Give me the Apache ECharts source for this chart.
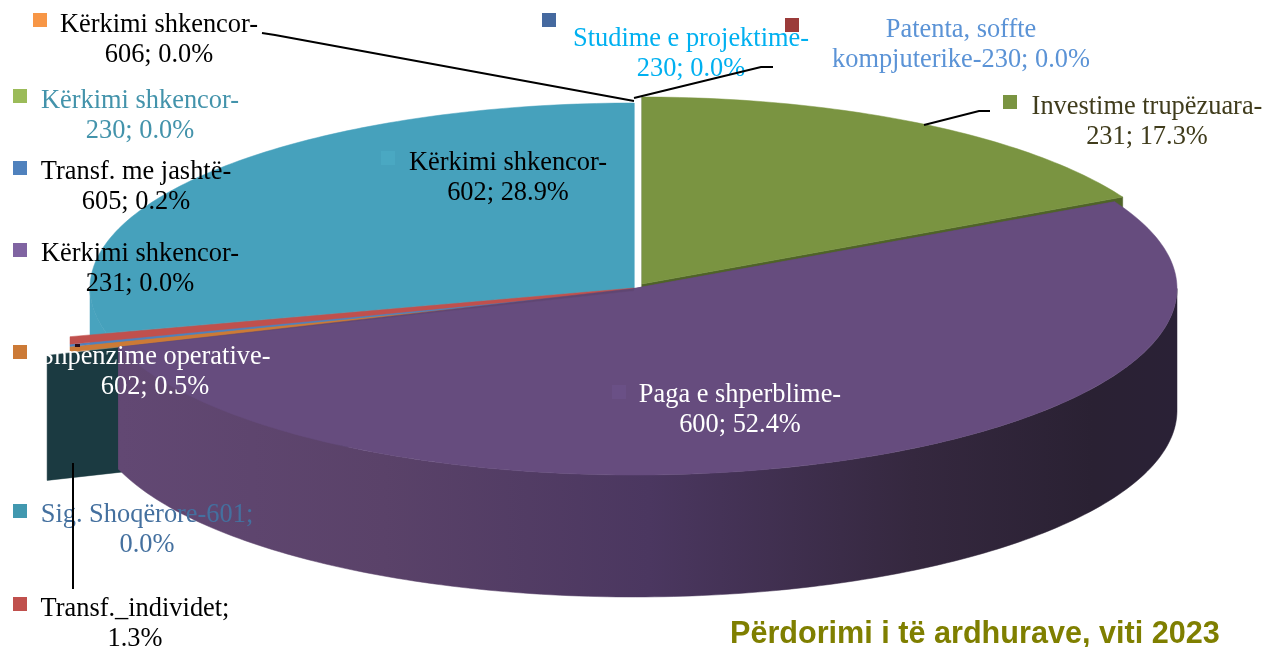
<!DOCTYPE html>
<html><head><meta charset="utf-8">
<style>html,body{margin:0;padding:0;background:#fff}#c{width:1265px;height:647px}</style>
<script src="https://cdn.jsdelivr.net/npm/echarts@6/dist/echarts.min.js"></script>
</head><body><div id="c"></div>
<script>
// ---- data: shares in percent, clockwise from 12 o'clock ----
var sliceNames  = ['Investime trupëzuara-231','Paga e shperblime-600','Sig. Shoqërore-601','Shpenzime operative-602','Transf. me jashtë-605','Transf._individet','Kërkimi shkencor-602'];
var sliceValues = [17.3, 52.4, 0.0, 0.5, 0.2, 1.3, 28.9];
var sliceColors = ['#7a9441','#664c7e','#1b3a41','#cc7a36','#4f81bd','#c0504d','#46a1bc'];
var wallColors  = ['#4f6328','#5f4672','#1b3a41','#cc7a36','#4f81bd','#c0504d','#48a3be'];

// ---- label texts ----
var labelTexts = [
  'Kërkimi shkencor-\n606; 0.0%','Kërkimi shkencor-\n230; 0.0%','Transf. me jashtë-\n605; 0.2%',
  'Kërkimi shkencor-\n231; 0.0%','Shpenzime operative-\n602; 0.5%','Sig. Shoqërore-601;\n0.0%',
  'Transf._individet;\n1.3%','Studime e projektime-\n230; 0.0%','Patenta, soffte\nkompjuterike-230; 0.0%',
  'Investime trupëzuara-\n231; 17.3%','Kërkimi shkencor-\n602; 28.9%','Paga e shperblime-\n600; 52.4%'
];
var labelColors = ['#000','#4393ab','#000','#000','#fff','#44709f','#000','#00b0f0','#5b93d6','#403c1c','#000','#fff'];
var swatchColors = ['#f79646','#9bbb59','#4f81bd','#8064a2','#cc7a36','#4198af','#c0504d','#45699f','#9b3b3a','#7a9441','#4aa8c2','#6a5086'];

// ---- layout (3D projection of each slice; drawing order is back to front) ----
var sliceGeom = [
  {cx:642,cy:284,rx:543,ry:187,d:122,k:1},
  {cx:634,cy:288.5,rx:543,ry:186.5,d:122,k:1.004,apexEnd:291},
  {cx:634,cy:290,rx:621,ry:200,d:125,k:1,faceOnly:true},
  {cx:634,cy:290,rx:600,ry:190,d:0,k:1,minX:70,apexA:293,apexB:290.8},
  {cx:634,cy:290,rx:600,ry:190,d:0,k:1,minX:70,apexA:290.8,apexB:290},
  {cx:634,cy:290,rx:600,ry:190,d:0,k:0.5,minX:70,apexA:290,apexB:288},
  {cx:634,cy:288,rx:544,ry:185,d:122,k:1,anchorEnd:true}
];
var drawOrder = [6,0,2,3,4,5,1];
var labelPos = [[159,40],[140,116],[136,187],[140,269],[155,372],[147,530],[135,624],[691,54],[961,45],[1147,122],[508,178],[740,410]];
var swatchPos = [[33,13],[13,89],[13,161],[13,243],[13,345],[13,504],[13,597],[542,13],[785,18],[1003,95],[381,151],[612,385]];
var leaders = [
  [[262,33],[275,35],[634,101]],
  [[634,98],[761,67],[773,67]],
  [[924,125],[979,111],[990,111]],
  [[73,463],[73,589]]
];

var starts = [], c = 0;
sliceValues.forEach(function(v){ starts.push(c*3.6); c += v; });

function pt(g,tDeg,dy){
  var t = tDeg*Math.PI/180;
  var x = g.cx + g.rx*Math.sin(t);
  if (g.minX!==undefined) x = Math.max(x,g.minX);
  return [x, g.cy - g.ry*Math.cos(t) + (dy||0)];
}
function arc(g,a,b,dy){
  var out=[], n=Math.max(2,Math.ceil(Math.abs(b-a)));
  for(var i=0;i<=n;i++) out.push(pt(g,a+(b-a)*i/n,dy));
  return out;
}
function poly(points,fill){
  return {type:'polygon',shape:{points:points},style:{fill:fill,stroke:fill,lineWidth:0.5}};
}
var purpleWall = {type:'linear',x:120,y:0,x2:1177,y2:0,global:true,colorStops:[
  {offset:0,color:'#624873'},{offset:0.25,color:'#5a4269'},{offset:0.5,color:'#4b3760'},
  {offset:0.75,color:'#35283f'},{offset:0.92,color:'#2a2133'},{offset:1,color:'#2a2136'}]};

function renderSlice(params,api){
  var idx = api.value(1), value = api.value(0), g = sliceGeom[idx];
  var sweep = value*3.6*g.k;
  var a = g.anchorEnd ? 360-sweep : starts[idx], b = a+sweep;
  var apex=[g.cx,g.cy], children=[];
  if (g.faceOnly){
    var o=pt(g,a);
    children.push(poly([apex,o,[o[0],o[1]+g.d],[apex[0],apex[1]+g.d]],sliceColors[idx]));
    return {type:'group',children:children};
  }
  if (g.apexA!==undefined){
    children.push(poly([[g.cx,g.apexA]].concat(arc(g,a,b,0),[[g.cx,g.apexB]]),sliceColors[idx]));
    return {type:'group',children:children};
  }
  if (g.d>0){
    var wall = idx===1 ? purpleWall : wallColors[idx];
    var lo=Math.max(a,90), hi=Math.min(b,270);
    [a,b].forEach(function(t){
      var o=pt(g,t);
      children.push(poly([apex,o,[o[0],o[1]+g.d],[apex[0],apex[1]+g.d]],wallColors[idx]));
    });
    if (hi>lo){
      children.push(poly(arc(g,lo,hi,0).concat(arc(g,hi,lo,g.d)),wall));
    }
  }
  var top=[apex].concat(arc(g,a,b,0));
  if (g.apexEnd!==undefined) top.push([g.cx,g.apexEnd]);
  children.push(poly(top,sliceColors[idx]));
  return {type:'group',children:children};
}

var graphics = [];
labelTexts.forEach(function(t,i){
  graphics.push({type:'rect',z:5,shape:{x:swatchPos[i][0],y:swatchPos[i][1],width:14,height:14},style:{fill:swatchColors[i]}});
  graphics.push({type:'text',z:6,x:labelPos[i][0],y:labelPos[i][1],style:{text:t,fill:labelColors[i],
    font:'26.4px "Liberation Serif"',lineHeight:30,align:'center',verticalAlign:'middle'}});
});
leaders.forEach(function(l){
  graphics.push({type:'polyline',z:7,shape:{points:l},style:{stroke:'#000',lineWidth:2,fill:null}});
});
graphics.push({type:'rect',z:4,shape:{x:75,y:344,width:5,height:3},style:{fill:'#2a0f1a'}});

var chart = echarts.init(document.getElementById('c'),null,{renderer:'canvas'});
chart.setOption({
  animation:false,
  backgroundColor:'#fff',
  title:{text:'Përdorimi i të ardhurave, viti 2023',left:730,top:619,
    textStyle:{fontFamily:'Liberation Sans',fontWeight:'bold',fontSize:30.6,color:'#7f7f00'},padding:0},
  series:[{
    type:'custom',coordinateSystem:'none',silent:true,clip:false,
    renderItem:renderSlice,
    data:drawOrder.map(function(i){return {name:sliceNames[i],value:[sliceValues[i],i]};})
  }],
  graphic:{elements:graphics}
});
</script></body></html>
